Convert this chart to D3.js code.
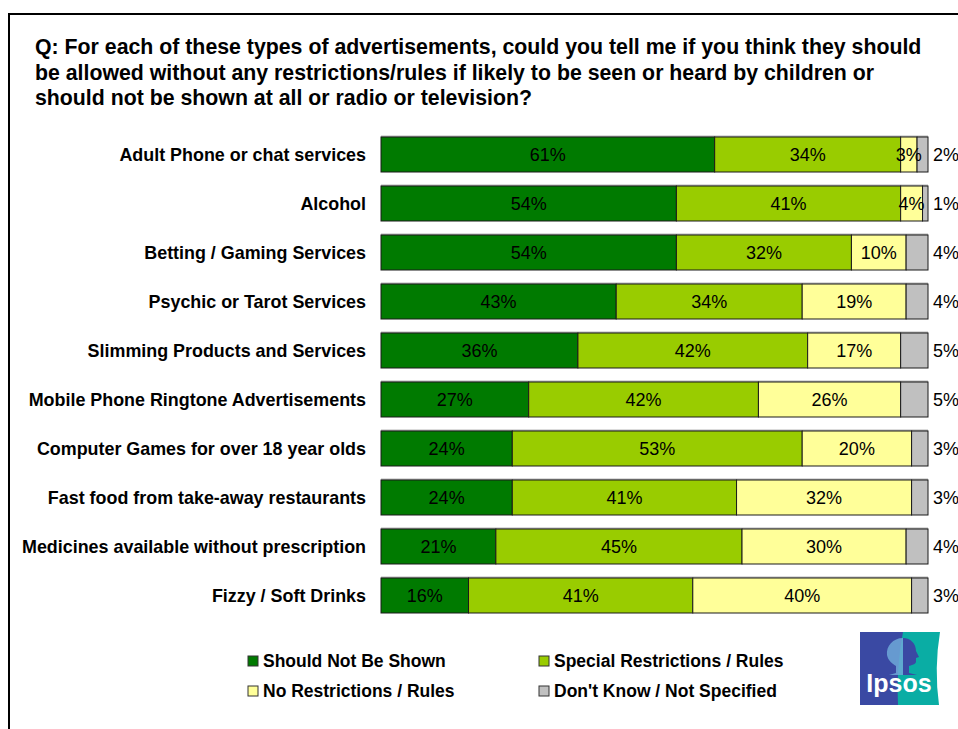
<!DOCTYPE html>
<html>
<head>
<meta charset="utf-8">
<script src="https://cdn.jsdelivr.net/npm/d3@7"></script>
<style>
  html, body { margin: 0; padding: 0; background: #fff; }
  svg { display: block; font-family: "Liberation Sans", Arial, sans-serif; }
</style>
</head>
<body>
<svg id="chart" width="958" height="729"></svg>
<script>
// Survey question shown as the chart heading
const titleLines = [
  "Q: For each of these types of advertisements, could you tell me if you think they should",
  "be allowed without any restrictions/rules if likely to be seen or heard by children or",
  "should not be shown at all or radio or television?"
];

const categories = [
  "Adult Phone or chat services",
  "Alcohol",
  "Betting / Gaming Services",
  "Psychic or Tarot Services",
  "Slimming Products and Services",
  "Mobile Phone Ringtone Advertisements",
  "Computer Games for over 18 year olds",
  "Fast food from take-away restaurants",
  "Medicines available without prescription",
  "Fizzy / Soft Drinks"
];

const seriesNames = [
  "Should Not Be Shown",
  "Special Restrictions / Rules",
  "No Restrictions / Rules",
  "Don't Know / Not Specified"
];

const shouldNotBeShown = [61, 54, 54, 43, 36, 27, 24, 24, 21, 16];
const specialRestrictions = [34, 41, 32, 34, 42, 42, 53, 41, 45, 41];
const noRestrictions = [3, 4, 10, 19, 17, 26, 20, 32, 30, 40];
const dontKnow = [2, 1, 4, 4, 5, 5, 3, 3, 4, 3];

const seriesColors = ["#007A00", "#99CC00", "#FFFF99", "#C0C0C0"];

const rows = categories.map((c, i) => ({
  category: c,
  s0: shouldNotBeShown[i],
  s1: specialRestrictions[i],
  s2: noRestrictions[i],
  s3: dontKnow[i]
}));
const keys = ["s0", "s1", "s2", "s3"];

const svg = d3.select("#chart");

// Frame lines (top and left edge of the slide panel)
svg.append("line").attr("x1", 9).attr("x2", 958).attr("y1", 14).attr("y2", 14)
  .attr("stroke", "#000").attr("stroke-width", 2);
svg.append("line").attr("x1", 9).attr("x2", 9).attr("y1", 13).attr("y2", 729)
  .attr("stroke", "#000").attr("stroke-width", 2);

// Heading
svg.append("g").selectAll("text").data(titleLines).join("text")
  .attr("x", 35)
  .attr("y", (d, i) => 54 + i * 25.5)
  .attr("font-size", 21.3)
  .attr("font-weight", "bold")
  .attr("fill", "#000")
  .text(d => d);

// Scales
const x = d3.scaleLinear().domain([0, 100]).range([381, 928]);
const y = d3.scaleBand().domain(categories).range([130, 620])
  .paddingInner(0.2857).paddingOuter(0.1429);

const stacked = d3.stack().keys(keys)(rows);

// Soft shadow line along the top of each bar
svg.append("g").selectAll("rect").data(rows).join("rect")
  .attr("x", x(0))
  .attr("y", d => y(d.category) - 1.5)
  .attr("width", x(100) - x(0))
  .attr("height", 2)
  .attr("fill", "#b8b8b8");

// Stacked bar segments
const layers = svg.append("g").selectAll("g").data(stacked).join("g")
  .attr("fill", (d, i) => seriesColors[i]);

layers.selectAll("rect").data(d => d).join("rect")
  .attr("x", d => x(d[0]))
  .attr("y", d => y(d.data.category))
  .attr("width", d => x(d[1]) - x(d[0]))
  .attr("height", y.bandwidth())
  .attr("stroke", "#1a1a1a")
  .attr("stroke-width", 1);

// Value labels inside the first three segments
stacked.slice(0, 3).forEach(layer => {
  svg.append("g").selectAll("text").data(layer).join("text")
    .attr("x", d => (x(d[0]) + x(d[1])) / 2)
    .attr("y", d => y(d.data.category) + y.bandwidth() / 2)
    .attr("dy", "0.36em")
    .attr("text-anchor", "middle")
    .attr("font-size", 18)
    .attr("fill", "#000")
    .text(d => (d[1] - d[0]) + "%");
});

// "Don't know" values sit to the right of the bars
svg.append("g").selectAll("text").data(stacked[3]).join("text")
  .attr("x", x(100) + 5)
  .attr("y", d => y(d.data.category) + y.bandwidth() / 2)
  .attr("dy", "0.36em")
  .attr("font-size", 18)
  .attr("fill", "#000")
  .text(d => (d[1] - d[0]) + "%");

// Category labels
svg.append("g").selectAll("text").data(categories).join("text")
  .attr("x", 366)
  .attr("y", d => y(d) + y.bandwidth() / 2)
  .attr("dy", "0.36em")
  .attr("text-anchor", "end")
  .attr("font-size", 17.9)
  .attr("font-weight", "bold")
  .attr("fill", "#000")
  .text(d => d);

// Legend (2 x 2)
const legendX = [248, 539];
const legendY = [661, 691];
const legend = svg.append("g").selectAll("g").data(seriesNames).join("g")
  .attr("transform", (d, i) => `translate(${legendX[i % 2]},${legendY[Math.floor(i / 2)]})`);
legend.append("rect")
  .attr("x", 0).attr("y", -5).attr("width", 10).attr("height", 10)
  .attr("fill", (d, i) => seriesColors[i])
  .attr("stroke", "#333").attr("stroke-width", 1);
legend.append("text")
  .attr("x", 15).attr("y", 0).attr("dy", "0.36em")
  .attr("font-size", 17.5).attr("font-weight", "bold").attr("fill", "#000")
  .text(d => d);

// Ipsos logo
const logo = svg.append("g").attr("transform", "translate(860,632)");
logo.append("path")
  .attr("d", "M0,0 H80 Q74,36 79,73 H0 Z")
  .attr("fill", "#0AADA4");
logo.append("path")
  .attr("d", "M0,0 H43 Q36,36 38,73 H0 Z")
  .attr("fill", "#3A49A3");
// head silhouette: dotted half over blue, solid profile over teal
logo.append("path")
  .attr("d", "M43,6 C33,6 26,14 27,23 C28,29 33,32 36,34 L36,41 L29,43 L43,43 Z")
  .attr("fill", "#6fa8d8").attr("opacity", 0.85);
logo.append("path")
  .attr("d", "M43,6 C51,6 56,12 56,19 L59,25 L56,26 L56,30 C55,33 51,33 49,34 L49,41 L57,43 L43,43 Z")
  .attr("fill", "#3A49A3");
logo.append("text")
  .attr("x", 39).attr("y", 60)
  .attr("text-anchor", "middle")
  .attr("font-size", 25).attr("font-weight", "bold")
  .attr("fill", "#fff")
  .text("Ipsos");
</script>
</body>
</html>
